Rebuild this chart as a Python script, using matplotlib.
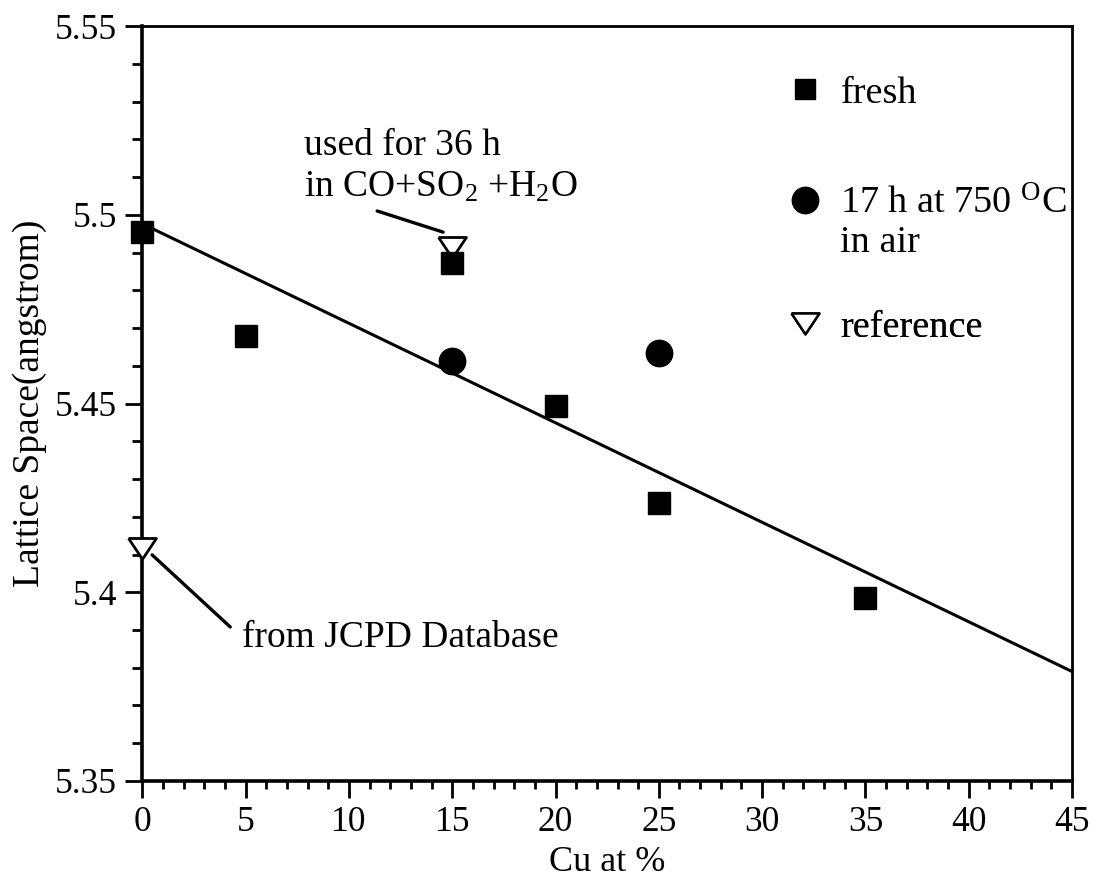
import numpy as np
import matplotlib
matplotlib.use("Agg")
import matplotlib.pyplot as plt
from matplotlib.lines import Line2D
from matplotlib.ticker import MultipleLocator

plt.rcParams['font.family'] = ['Liberation Serif', 'DejaVu Serif']
plt.rcParams['mathtext.fontset'] = 'custom'
plt.rcParams['mathtext.rm'] = 'Liberation Serif'
plt.rcParams['mathtext.it'] = 'Liberation Serif:italic'

# fresh samples
fresh_cu = [0, 5, 15, 20, 25, 35]
fresh_a = [5.4955, 5.4680, 5.4872, 5.4493, 5.4236, 5.3985]

# 17 h at 750 C in air
air_cu = [15, 25]
air_a = [5.4612, 5.4634]

# reference values
ref_cu = [0, 15]
ref_a = [5.4117, 5.4915]

# linear fit of the fresh samples, drawn over the whole x range
slope, icpt = np.polyfit(fresh_cu, fresh_a, 1)
fit_x = np.array([0, 45])
fit_y = slope * fit_x + icpt

# flat open triangle, like the original
tri = [(-1, 0.72), (1, 0.72), (0, -0.78), (-1, 0.72)]

fig = plt.figure(figsize=(10.94, 8.88), dpi=100)
ax = fig.add_axes([0.13, 0.1205, 0.85, 0.8502])

ax.plot(fit_x, fit_y, color='black', lw=2.2, clip_on=False, zorder=2)
ax.plot(ref_cu, ref_a, ls='none', marker=tri, mfc='white', mec='black', mew=2, ms=20,
        clip_on=False, zorder=3)
ax.plot(fresh_cu, fresh_a, 's', color='black', ms=15.5, clip_on=False, zorder=4)
ax.plot(air_cu, air_a, 'o', color='black', ms=19, clip_on=False, zorder=4)

ax.set_xlim(0, 45)
ax.set_ylim(5.35, 5.55)
ax.xaxis.set_major_locator(MultipleLocator(5))
ax.xaxis.set_minor_locator(MultipleLocator(1))
ax.yaxis.set_minor_locator(MultipleLocator(0.01))
ax.set_yticks([5.35, 5.4, 5.45, 5.5, 5.55])
ax.set_yticklabels(['5.35', '5.4', '5.45', '5.5', '5.55'])
ax.tick_params(which='both', direction='out', top=False, right=False, labelsize=25.5, width=2)
ax.tick_params(axis='x', which='major', length=12, pad=6)
ax.tick_params(axis='x', which='minor', length=6)
ax.tick_params(axis='y', which='major', length=12, pad=6)
ax.tick_params(axis='y', which='minor', length=7)
for side in ['left', 'bottom']:
    ax.spines[side].set_linewidth(2.6)
for side in ['top', 'right']:
    ax.spines[side].set_linewidth(2.0)

ax.set_xlabel('Cu at %', fontsize=26, labelpad=5)
ax.set_ylabel('Lattice Space(angstrom)', fontsize=27, labelpad=6)

# annotations
ax.text(7.85, 5.5047, 'used for 36 h\nin CO+SO$_2$ +H$_2$O', fontsize=27,
        ha='left', va='baseline', linespacing=1.27)
ax.annotate('', xy=(14.56, 5.4954), xytext=(11.37, 5.5010),
            arrowprops=dict(arrowstyle='-', color='black', lw=2.4, shrinkA=0, shrinkB=0))
ax.text(4.84, 5.3855, 'from JCPD Database', fontsize=27, ha='left', va='baseline')
ax.annotate('', xy=(0.48, 5.4099), xytext=(4.26, 5.3908),
            arrowprops=dict(arrowstyle='-', color='black', lw=2.4, shrinkA=0, shrinkB=0))

# key, one entry per row
keys = [
    (Line2D([], [], ls='none', marker='s', color='black', ms=14), 'fresh', 0.911),
    (Line2D([], [], ls='none', marker='o', color='black', ms=19), '17 h at 750 $^{\\rm O}$C', 0.764),
    (Line2D([], [], ls='none', marker=tri, mfc='white', mec='black', mew=1.8, ms=20), 'reference', 0.601),
]
for h, lab, yc in keys:
    leg = ax.legend([h], [lab], loc='center left', bbox_to_anchor=(0.6925, yc), frameon=False,
                    fontsize=27.5, handlelength=1.0, handletextpad=0.42, borderpad=0,
                    borderaxespad=0)
    ax.add_artist(leg)
ax.text(0.7505, 0.7135, 'in air', fontsize=27.5, transform=ax.transAxes, ha='left', va='center')

fig.savefig('out.png', dpi=100)
